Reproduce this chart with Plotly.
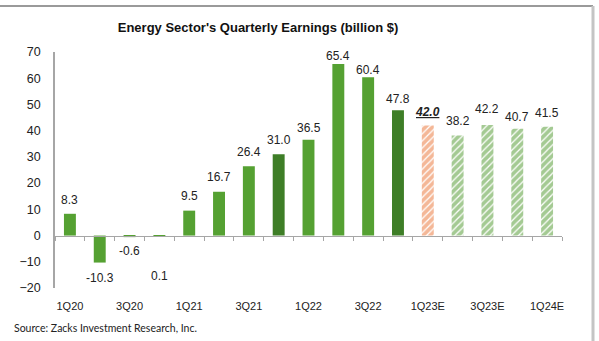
import plotly.graph_objects as go

# Quarterly earnings of the energy sector (billion $); "E" marks estimates
quarters = ["1Q20", "2Q20", "3Q20", "4Q20", "1Q21", "2Q21", "3Q21", "4Q21",
            "1Q22", "2Q22", "3Q22", "4Q22", "1Q23E", "2Q23E", "3Q23E", "4Q23E", "1Q24E"]
earnings = [8.3, -10.3, -0.6, 0.1, 9.5, 16.7, 26.4, 31.0,
            36.5, 65.4, 60.4, 47.8, 42.0, 38.2, 42.2, 40.7, 41.5]
tick_labels = quarters[::2]
current_quarter = "1Q23E"

# Pixel offsets of the value labels from the bar ends
label_shift = [14, -15, -14, -40, 15, 15, 14, 14,
               12, 8, 7, 11, 13, 14, 16, 12, 14]

W, H = 599, 341
ML, MR, MT, MB = 55, 37, 52, 53
PW, PH = W - ML - MR, H - MT - MB
Y_MIN, Y_MAX = -20, 70

BRIGHT = "#55a132"
DARK = "#3e7e27"
HATCH_GREEN = "#4a9628"
HATCH_ORANGE = "#e97030"
AXIS_GREY = "#a6a6a6"
FONT = "Liberation Sans, Arial, sans-serif"

actual = [(q, v) for q, v in zip(quarters, earnings) if not q.endswith("E")]
estimate = [(q, v) for q, v in zip(quarters, earnings) if q.endswith("E")]

fig = go.Figure()
# Reported quarters: solid bars, fourth quarters in darker green
fig.add_trace(go.Bar(
    x=[q for q, _ in actual], y=[v for _, v in actual], width=0.4,
    marker=dict(color=[DARK if q.startswith("4Q") and v > 1 else BRIGHT for q, v in actual],
                line=dict(width=0)),
    hoverinfo="x+y", showlegend=False,
))
# Estimated quarters: hatched bars, the current quarter in orange
for q, v in estimate:
    c = HATCH_ORANGE if q == current_quarter else HATCH_GREEN
    fig.add_trace(go.Bar(
        x=[q], y=[v], width=0.4,
        marker=dict(color="white", line=dict(width=0),
                    pattern=dict(shape="/", fgcolor=c, bgcolor="white",
                                 size=5, solidity=0.75)),
        hoverinfo="x+y", showlegend=False,
    ))
# Invisible companion trace so the zero-line axis knows the categories
fig.add_trace(go.Scatter(x=quarters, y=[None] * len(quarters), xaxis="x2",
                         mode="markers", showlegend=False, hoverinfo="skip"))

annotations = []
for q, v, s in zip(quarters, earnings, label_shift):
    txt = f"{v:.1f}"
    if q == current_quarter:
        txt = f"<b><i><u>{txt}</u></i></b>"
    annotations.append(dict(
        x=q, y=max(v, 0) if s > 0 else min(v, 0), xref="x", yref="y",
        text=txt, showarrow=False, yshift=s,
        font=dict(family=FONT, size=12, color="#222222"),
        xanchor="center", yanchor="middle",
    ))

annotations.append(dict(
    x=(12 - ML) / PW, y=(MT + PH - 328) / PH, xref="paper", yref="paper",
    text="Source: Zacks Investment Research, Inc.", showarrow=False,
    xanchor="left", yanchor="middle",
    font=dict(family="Lato, Open Sans, sans-serif", size=10.5, color="#222222"),
))

frame_top = 1 + (MT - 6) / PH
frame_right = (593 - ML) / PW
frame = [
    dict(type="line", xref="paper", yref="paper",
         x0=-ML / PW, x1=frame_right, y0=frame_top, y1=frame_top,
         line=dict(color="#9a9a9a", width=2)),
    dict(type="line", xref="paper", yref="paper",
         x0=frame_right, x1=frame_right, y0=frame_top, y1=-MB / PH - 0.01,
         line=dict(color="#c4c4c4", width=3)),
]

fig.update_layout(
    width=W, height=H,
    margin=dict(l=ML, r=MR, t=MT, b=MB, pad=0),
    paper_bgcolor="white", plot_bgcolor="white",
    barmode="overlay",
    title=dict(text="<b>Energy Sector's Quarterly Earnings (billion $)</b>",
               x=258 / W, y=1 - 27 / H, xanchor="center", yanchor="middle",
               xref="container", yref="container",
               font=dict(family=FONT, size=13, color="#111111")),
    xaxis=dict(type="category", categoryorder="array", categoryarray=quarters,
               range=[-0.5, len(quarters) - 0.5],
               tickmode="array", tickvals=tick_labels, ticktext=tick_labels,
               showline=False, showgrid=False, zeroline=False, ticks="",
               ticklabelstandoff=10,
               tickfont=dict(family=FONT, size=11, color="#222222")),
    xaxis2=dict(type="category", categoryorder="array", categoryarray=quarters,
                overlaying="x", matches="x", anchor="free",
                position=(0 - Y_MIN) / (Y_MAX - Y_MIN),
                showline=True, linecolor=AXIS_GREY, linewidth=1,
                ticks="outside", tickson="boundaries", ticklen=4,
                tickcolor=AXIS_GREY, showticklabels=False, showgrid=False),
    yaxis=dict(range=[Y_MIN, Y_MAX], dtick=10, showgrid=False, zeroline=False,
               showline=True, linecolor=AXIS_GREY, linewidth=1.5, ticks="",
               ticklabelstandoff=10,
               tickfont=dict(family=FONT, size=12.5, color="#222222")),
    annotations=annotations,
    shapes=frame,
)

fig.write_html("out.html")
